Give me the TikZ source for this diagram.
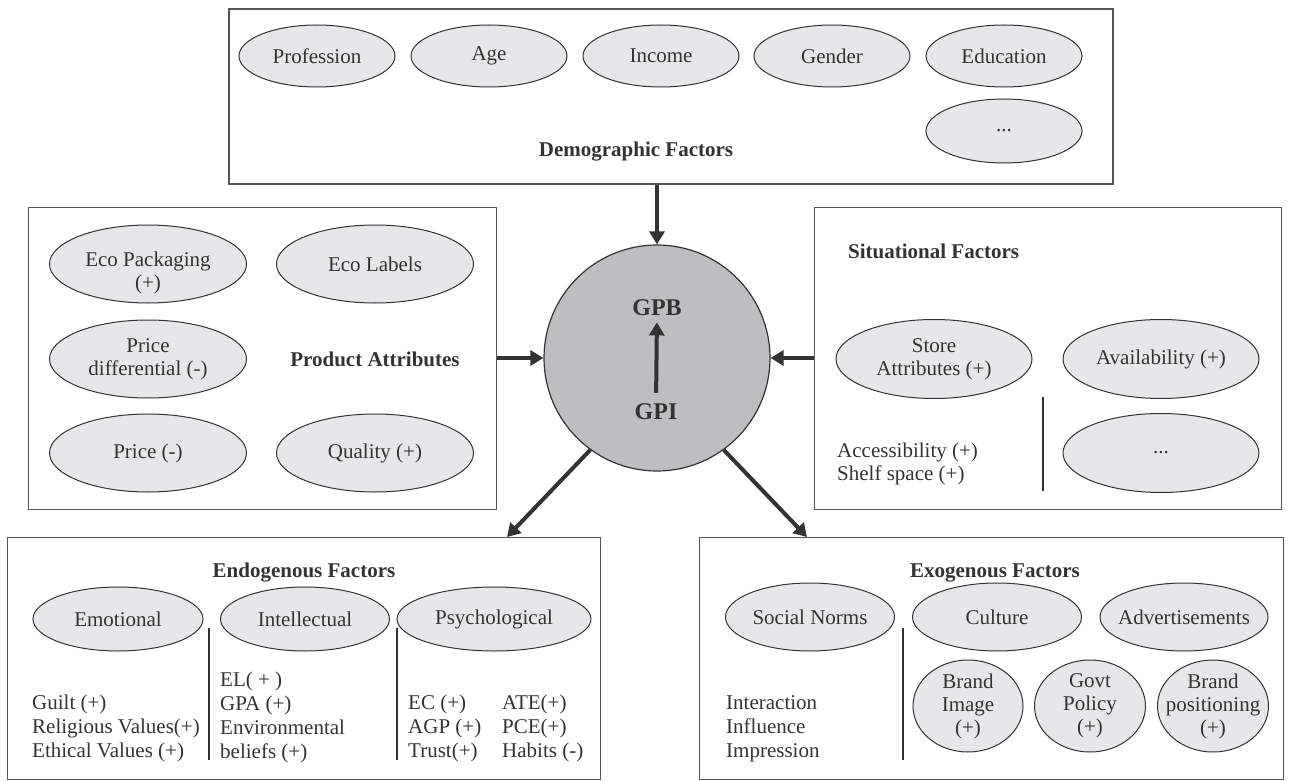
\documentclass[tikz,border=0pt]{standalone}
\usepackage{fontspec}
\setmainfont{Liberation Serif}
\usetikzlibrary{shapes.geometric,arrows.meta}
\definecolor{ink}{HTML}{333333}
\definecolor{ovalfill}{HTML}{E6E7E8}
\definecolor{ballfill}{HTML}{BCBEC0}
\definecolor{frame}{HTML}{555555}
\begin{document}
\begin{tikzpicture}[x=1pt,y=-1pt,
  every node/.style={text=ink, font=\fontsize{21}{24}\selectfont},
  box/.style={draw=frame, line width=1.3pt, rectangle, anchor=north west, inner sep=0pt},
  oval/.style={ellipse, draw=ink, fill=ovalfill, line width=1pt, inner sep=0pt},
  lbl/.style={align=center, inner sep=0pt, text=ink, font=\fontsize{21}{23}\selectfont},
  lst/.style={anchor=base west, inner sep=0pt},
  ttl/.style={font=\fontsize{21}{24}\selectfont\bfseries, inner sep=0pt},
  sep/.style={draw=ink, line width=1.2pt},
  bigarrow/.style={draw=ink, line width=4pt, -{Triangle[length=13pt,width=15pt]}}
]
\useasboundingbox (0,0) rectangle (1291,781);

% ---------- boxes ----------
\node[box, line width=1.8pt, minimum width=884pt, minimum height=175pt] (dem) at (228,8) {};
\node[box, minimum width=468pt, minimum height=302pt] (prod) at (28,207) {};
\node[box, minimum width=467pt, minimum height=302pt] (sit) at (814,207) {};
\node[box, minimum width=593pt, minimum height=242pt] (endo) at (7,537) {};
\node[box, minimum width=584pt, minimum height=242pt] (exo) at (699,537) {};

% ---------- demographic ----------
\node[oval, minimum width=156pt, minimum height=62pt, label={[lbl]center:Profession}] (prof) at (317,56) {};
\node[oval, minimum width=156pt, minimum height=62pt, label={[lbl]center:Age}] (age) at (489,56) {};
\node[oval, minimum width=156pt, minimum height=62pt, label={[lbl]center:Income}] (inc) at (661,56) {};
\node[oval, minimum width=156pt, minimum height=62pt, label={[lbl]center:Gender}] (gen) at (832,56) {};
\node[oval, minimum width=156pt, minimum height=62pt, label={[lbl]center:Education}] (edu) at (1004,56) {};
\node[oval, minimum width=156pt, minimum height=64pt, label={[lbl]center:...}] (demmore) at (1004,131) {};
\node[ttl, anchor=base] (demttl) at (636,157) {Demographic Factors};

% ---------- product attributes ----------
\node[oval, minimum width=197pt, minimum height=78pt, label={[lbl, yshift=-9pt]center:Eco Packaging\\(+)}] (ecopack) at (148,264) {};
\node[oval, minimum width=197pt, minimum height=78pt, label={[lbl]center:Eco Labels}] (ecolab) at (375,264) {};
\node[oval, minimum width=197pt, minimum height=78pt, label={[lbl]center:Price\\differential (-)}] (pdiff) at (148,359) {};
\node[oval, minimum width=197pt, minimum height=78pt, label={[lbl]center:Price (-)}] (price) at (148,453) {};
\node[oval, minimum width=197pt, minimum height=78pt, label={[lbl]center:Quality (+)}] (qual) at (375,453) {};
\node[ttl, anchor=base] (prodttl) at (375,366) {Product Attributes};

% ---------- situational ----------
\node[ttl, anchor=base west] (sitttl) at (848,258) {Situational Factors};
\node[oval, minimum width=196pt, minimum height=79pt, label={[lbl]center:Store\\Attributes (+)}] (store) at (934,359) {};
\node[oval, minimum width=196pt, minimum height=79pt, label={[lbl]center:Availability (+)}] (avail) at (1161,359) {};
\node[oval, minimum width=196pt, minimum height=79pt, label={[lbl]center:...}] (sitmore) at (1161,453) {};
\node[lst] (sitlist) at (837,457) {\begin{tabular}[t]{@{}l@{}}Accessibility (+)\\[-1pt]Shelf space (+)\end{tabular}};
\draw[sep] (1043,397) -- (1043,491);

% ---------- centre ----------
\node[circle, draw=ink, fill=ballfill, line width=1.2pt, minimum size=226pt, inner sep=0pt] (gpc) at (657,358) {};
\node[font=\fontsize{24}{28}\selectfont\bfseries, inner sep=0pt, anchor=base] (gpb) at (657,315) {GPB};
\node[font=\fontsize{24}{28}\selectfont\bfseries, inner sep=0pt, anchor=base] (gpi) at (656,419) {GPI};
\draw[bigarrow, shorten <=10pt, shorten >=7pt] (gpi.north) -- (gpb.south);

% ---------- arrows ----------
\draw[bigarrow] (dem.south -| gpc.north) -- (gpc.north);
\draw[bigarrow] (prod.east |- gpc.west) -- (gpc.west);
\draw[bigarrow] (sit.west |- gpc.east) -- (gpc.east);
\coordinate (endoin) at (507,537);
\coordinate (exoin) at (807,537);
\draw[bigarrow] (gpc.234) -- (endoin);
\draw[bigarrow] (gpc.306) -- (exoin);

% ---------- endogenous ----------
\node[ttl, anchor=base] (endottl) at (304,577) {Endogenous Factors};
\node[oval, minimum width=170pt, minimum height=64pt, label={[lbl]center:Emotional}] (emo) at (118,619) {};
\node[oval, minimum width=169pt, minimum height=64pt, label={[lbl]center:Intellectual}] (intel) at (305,619) {};
\node[oval, minimum width=194pt, minimum height=64pt, label={[lbl]center:Psychological}] (psy) at (494,619) {};
\draw[sep] (209,628) -- (209,760);
\draw[sep] (397,628) -- (397,760);
\node[lst] (emolist) at (32,709) {\begin{tabular}[t]{@{}l@{}}Guilt (+)\\Religious Values(+)\\Ethical Values (+)\end{tabular}};
\node[lst] (intlist) at (220,686) {\begin{tabular}[t]{@{}l@{}}EL( + )\\GPA (+)\\Environmental\\beliefs (+)\end{tabular}};
\node[lst] (psylistA) at (408,709) {\begin{tabular}[t]{@{}l@{}}EC (+)\\AGP (+)\\Trust(+)\end{tabular}};
\node[lst] (psylistB) at (502,709) {\begin{tabular}[t]{@{}l@{}}ATE(+)\\PCE(+)\\Habits (-)\end{tabular}};

% ---------- exogenous ----------
\node[ttl, anchor=base] (exottl) at (995,577) {Exogenous Factors};
\node[oval, minimum width=169pt, minimum height=68pt, label={[lbl]center:Social Norms}] (social) at (810,617) {};
\node[oval, minimum width=169pt, minimum height=68pt, label={[lbl]center:Culture}] (cult) at (997,617) {};
\node[oval, minimum width=168pt, minimum height=68pt, label={[lbl]center:Advertisements}] (adv) at (1184,617) {};
\draw[sep] (903,628) -- (903,760);
\node[oval, minimum width=110pt, minimum height=92pt, label={[lbl]center:Brand\\Image\\(+)}] (bimg) at (968,706) {};
\node[oval, minimum width=111pt, minimum height=92pt, label={[lbl]center:Govt\\Policy\\(+)}] (govt) at (1090,706) {};
\node[oval, minimum width=111pt, minimum height=92pt, label={[lbl]center:Brand\\positioning\\(+)}] (bpos) at (1213,706) {};
\node[lst] (exolist) at (726,709) {\begin{tabular}[t]{@{}l@{}}Interaction\\Influence\\Impression\end{tabular}};
\end{tikzpicture}
\end{document}
